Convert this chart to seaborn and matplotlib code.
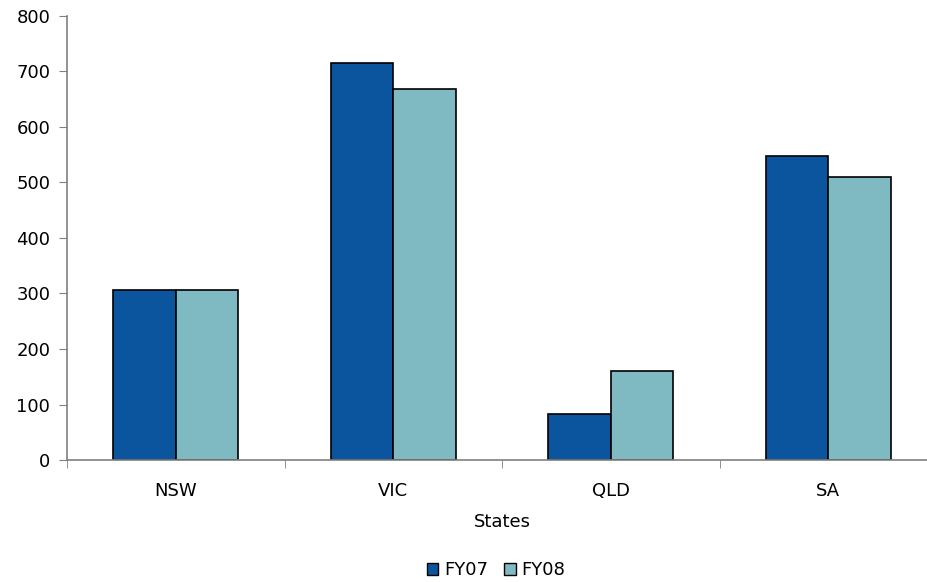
import numpy as np
import pandas as pd
import seaborn as sns
import matplotlib.pyplot as plt

states = ['NSW', 'VIC', 'QLD', 'SA']
fy07 = [306, 715, 83, 548]
fy08 = [306, 668, 160, 510]
series = ['FY07', 'FY08']
colors = ['#0B559F', '#7FB9C2']

df = pd.DataFrame({
    'State': states * 2,
    'Value': fy07 + fy08,
    'Year': ['FY07'] * len(states) + ['FY08'] * len(states),
})

sns.set_style('white')
plt.rcParams['font.family'] = ['DejaVu Sans']
plt.rcParams['text.color'] = 'black'

fig = plt.figure(figsize=(9.27, 5.82), dpi=100)
# axis runs off the right edge, like the original export
ax = fig.add_axes([0.0723, 0.2096, 0.9385, 0.763])

sns.barplot(data=df, x='State', y='Value', hue='Year', order=states,
            hue_order=series, palette=colors, width=0.575, saturation=1,
            edgecolor='black', linewidth=1.2, ax=ax, legend=False)

ax.set_ylim(0, 800)
ax.set_xlim(-0.5, len(states) - 0.5)
ax.set_yticks(np.arange(0, 801, 100))
ax.set_xticks(np.arange(-0.5, len(states)), minor=True)
ax.tick_params(axis='x', which='major', length=0, labelsize=13, pad=16, labelcolor='black')
ax.tick_params(axis='x', which='minor', length=6, color='#808080', direction='out', bottom=True)
ax.tick_params(axis='y', length=6, color='#808080', direction='out', labelsize=13,
               left=True, pad=6, labelcolor='black')

for s in ['top', 'right']:
    ax.spines[s].set_visible(False)
for s in ['left', 'bottom']:
    ax.spines[s].set_color('#808080')
    ax.spines[s].set_linewidth(1.2)

ax.set_xlabel('States', fontsize=13, labelpad=9, color='black')
ax.set_ylabel('')

handles = [plt.Rectangle((0, 0), 1, 1, facecolor=c, edgecolor='black', linewidth=1)
           for c in colors]
fig.legend(handles, series, loc='center', bbox_to_anchor=(0.535, 0.02),
           ncol=2, frameon=False, fontsize=13, handlelength=0.65,
           handleheight=0.65, handletextpad=0.3, columnspacing=0.9)

plt.savefig('out.png', dpi=100)
